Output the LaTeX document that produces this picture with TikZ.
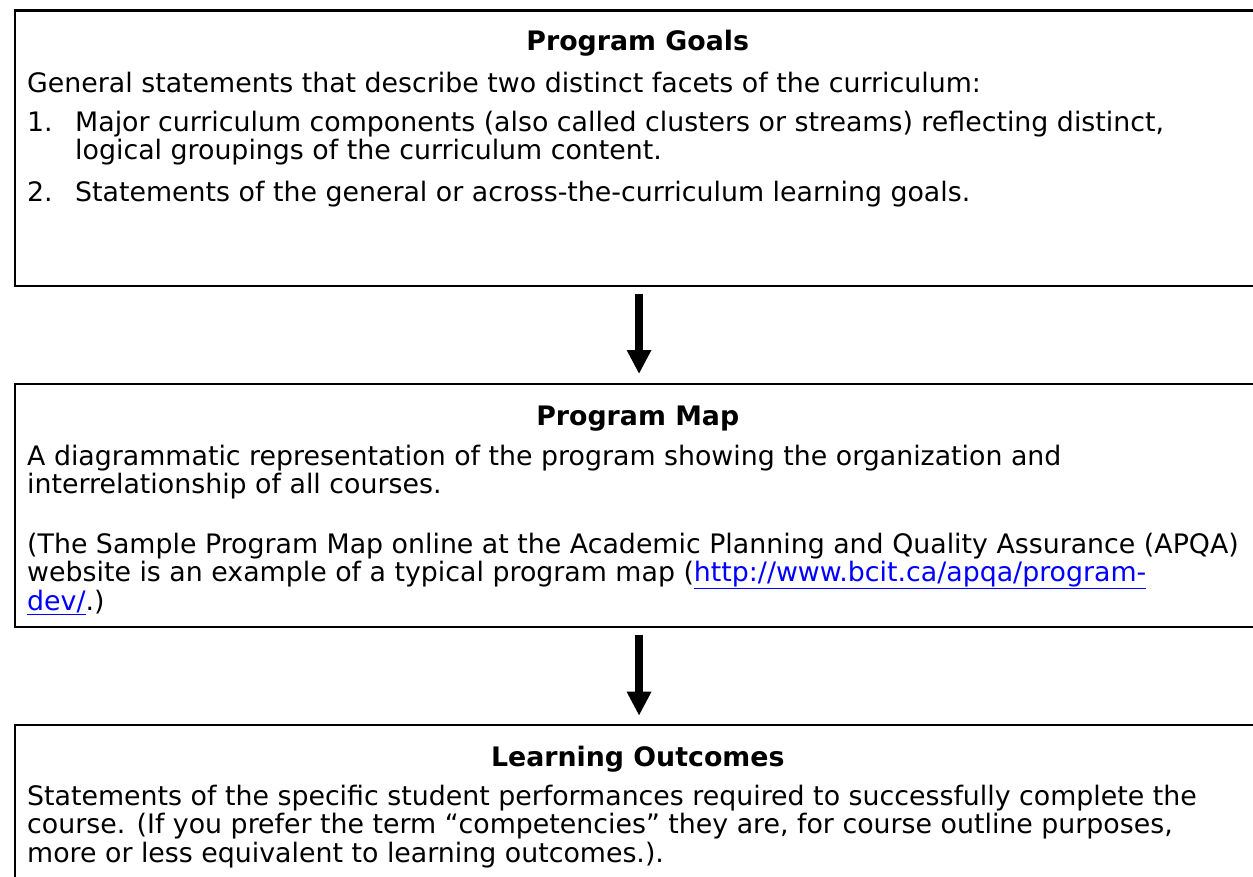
\documentclass[tikz,border=0pt]{standalone}
\usepackage{fontspec}
\setmainfont{DejaVu Sans}
\usetikzlibrary{arrows.meta}
\definecolor{linkblue}{RGB}{0,0,255}
\newcommand\bodytext{\fontsize{26.8}{28.5}\selectfont}
\newcommand\headtext{\fontsize{26.8}{28.5}\selectfont\bfseries}
\newcommand\weblink[1]{\textcolor{linkblue}{\underline{#1}}}
\begin{document}
\begin{tikzpicture}[x=1pt,y=-1pt,
  frame/.style={draw=black, line width=2.6pt, inner sep=0pt, anchor=north west},
  txt/.style={anchor=base west, inner sep=0pt, font=\bodytext},
  head/.style={anchor=base, inner sep=0pt, font=\headtext},
  flow/.style={line width=8pt, -{Triangle[width=23pt,length=24pt]}}]
\useasboundingbox (0,0) rectangle (1253,876);

% three stacked boxes; the right edge of each and the bottom of the last run off the page
\node[frame, minimum width=1248.5pt, minimum height=275.5pt] (goals) at (13.5,9) {};
\node[frame, minimum width=1248.5pt, minimum height=243pt] (map) at (13.5,382.5) {};
\node[frame, minimum width=1248.5pt, minimum height=220pt] (outcomes) at (13.5,723.7) {};

% connectors
\draw[flow, shorten <=6.5pt, shorten >=8.5pt] (goals.south) -- (map.north);
\draw[flow, shorten <=6.5pt, shorten >=8pt] (map.south) -- (outcomes.north);

% Program Goals
\node[head] (g0) at (637.75,50) {Program Goals};
\node[txt] (g1) at (27,92) {General statements that describe two distinct facets of the curriculum:};
\node[txt] (g2n) at (27,131) {1.};
\node[txt] (g2) at (75,131) {Major curriculum components (also called clusters or streams) reflecting distinct,};
\node[txt] (g3) at (75,159.5) {logical groupings of the curriculum content.};
\node[txt] (g4n) at (27,201) {2.};
\node[txt] (g4) at (75,201) {Statements of the general or across-the-curriculum learning goals.};

% Program Map
\node[head] (m0) at (637.75,425) {Program Map};
\node[txt] (m1) at (27,465) {A diagrammatic representation of the program showing the organization and};
\node[txt] (m2) at (27,493.5) {interrelationship of all courses.};
\node[txt] (m3) at (27,553) {(The Sample Program Map online at the Academic Planning and Quality Assurance (APQA)};
\node[txt] (m4) at (27,581.5) {website is an example of a typical program map (\weblink{http://www.bcit.ca/apqa/program-}};
\node[txt] (m5) at (27,610) {\weblink{dev/}.)};

% Learning Outcomes
\node[head] (o0) at (637.75,766) {Learning Outcomes};
\node[txt] (o1) at (27,805) {Statements of the specific student performances required to successfully complete the};
\node[txt] (o2) at (27,833.5) {course. (If you prefer the term “competencies” they are, for course outline purposes,};
\node[txt] (o3) at (27,862) {more or less equivalent to learning outcomes.).};
\end{tikzpicture}
\end{document}
